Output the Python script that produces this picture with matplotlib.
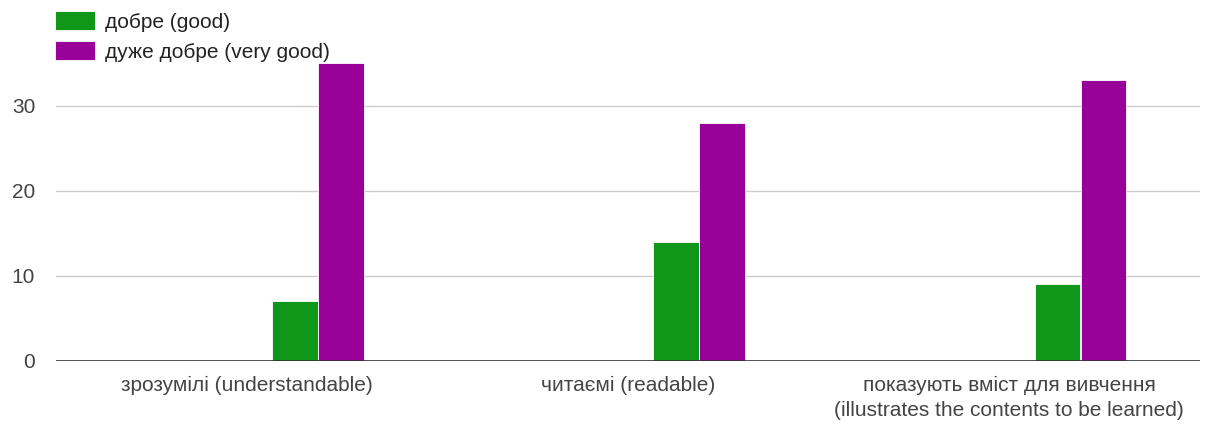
import numpy as np
import matplotlib.pyplot as plt

categories = ["зрозумілі (understandable)",
              "читаємі (readable)",
              "показують вміст для вивчення\n(illustrates the contents to be learned)"]
good = [7, 14, 9]
very_good = [35, 28, 33]
series_names = ["добре (good)", "дуже добре (very good)"]
series_colors = ["#109618", "#990099"]

plt.rcParams['font.family'] = ['Liberation Sans', 'DejaVu Sans']

fig = plt.figure(figsize=(12.07, 4.26), dpi=100)
ax = fig.add_axes([0.0464, 0.1526, 0.9478, 0.7584])

x = np.arange(len(categories))
w = 0.12
# bars sit right of the group centre (the first series slots are empty)
ax.bar(x + 0.126, good, width=w, color=series_colors[0], edgecolor="white",
       linewidth=0.6, label=series_names[0], zorder=3)
ax.bar(x + 0.247, very_good, width=w, color=series_colors[1], edgecolor="white",
       linewidth=0.6, label=series_names[1], zorder=3)

ax.set_xlim(-0.5, 2.5)
ax.set_ylim(0, 38)
ax.set_yticks([0, 10, 20, 30])
ax.set_xticks(x)
ax.set_xticklabels(categories, fontsize=15, color="#444444", linespacing=1.4)
ax.tick_params(axis="y", length=0, pad=15, labelsize=15, labelcolor="#444444")
ax.tick_params(axis="x", length=0, pad=11)

for yv in [10, 20, 30]:
    ax.axhline(yv, color="#cccccc", linewidth=1, zorder=1)
ax.axhline(0, color="#333333", linewidth=1.2, zorder=4)

for s in ax.spines.values():
    s.set_visible(False)

leg = ax.legend(loc="upper left", bbox_to_anchor=(55 / 1207, 1 - 11 / 426),
                bbox_transform=fig.transFigure, frameon=False, fontsize=15,
                handlelength=1.9, handleheight=1.05, handletextpad=0.5,
                labelspacing=0.45, borderpad=0, borderaxespad=0)
for t in leg.get_texts():
    t.set_color("#222222")

fig.savefig("out.png", dpi=100)
